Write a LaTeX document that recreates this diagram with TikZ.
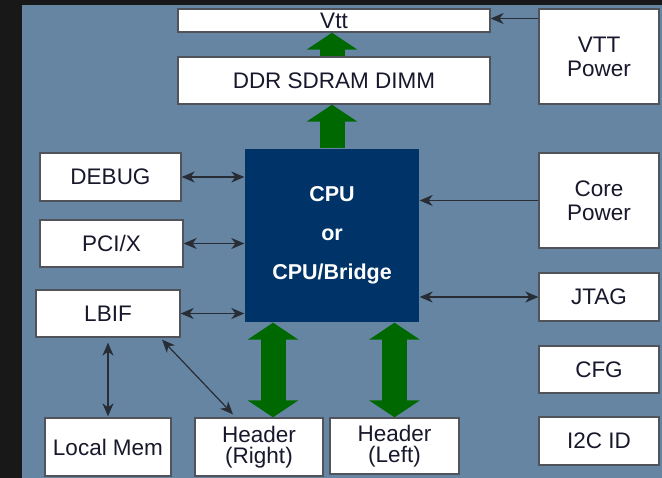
\documentclass[tikz,border=0pt]{standalone}
\usepackage{fontspec}
\setmainfont{Liberation Sans}
\usetikzlibrary{arrows.meta,calc}
\definecolor{bg}{RGB}{101,133,163}
\definecolor{frame}{RGB}{24,24,24}
\definecolor{cpublue}{RGB}{0,52,104}
\definecolor{grn}{RGB}{0,104,0}
\definecolor{txt}{RGB}{24,24,44}
\definecolor{edge}{RGB}{80,84,90}
\definecolor{arr}{RGB}{40,44,52}
\newcommand\placebox[7][]{\node[box,#1,minimum width={(#4-#2)*1pt},minimum height={(#5-#3)*1pt}] (#6) at ({(#2+#4)/2},{(#3+#5)/2}) {#7};}
\begin{document}
\begin{tikzpicture}[x=1pt,y=-1pt,
  box/.style={draw=edge,line width=1.3pt,fill=white,inner sep=0pt,text=txt,align=center,font=\fontsize{22.5}{24}\selectfont},
  hdr/.style={font=\fontsize{22.5}{21}\selectfont},
  cpubox/.style={fill=cpublue,draw=none,text=white,font=\fontsize{21.5}{39}\selectfont\bfseries},
  tip/.style={},
  dbl/.style={draw=arr,line width=1.2pt,arrows={Stealth[length=13pt,width=11pt,inset=4pt]-Stealth[length=13pt,width=11pt,inset=4pt]}},
  sgl/.style={draw=arr,line width=1.2pt,arrows={-Stealth[length=13pt,width=11pt,inset=4pt]}},
  gup/.style={draw=grn,line width=25pt,arrows={-Triangle[length=17pt,width=50pt]}},
  gdbl/.style={draw=grn,line width=25pt,arrows={Triangle[length=17pt,width=50pt]-Triangle[length=17pt,width=50pt]}}]
\useasboundingbox (0,0) rectangle (662,478);
\fill[frame] (0,0) rectangle (662,478);
\fill[bg] (22,5) rectangle (662,478);

\placebox{178}{9}{490}{32}{vtt}{Vtt}
\placebox{178}{57}{490}{104}{ddr}{DDR SDRAM DIMM}
\placebox{539}{9}{659}{104}{vttp}{VTT\\Power}
\placebox{40}{153}{181}{201}{debug}{DEBUG}
\placebox{40}{220}{183}{267}{pcix}{PCI/X}
\placebox{36}{290}{180}{337}{lbif}{LBIF}
\placebox[cpubox]{245}{149}{419}{322}{cpu}{CPU\\or\\CPU/Bridge}
\placebox{539}{153}{659}{248}{corep}{Core\\Power}
\placebox{539}{273}{659}{321}{jtag}{JTAG}
\placebox{539}{346}{659}{393}{cfg}{CFG}
\placebox{539}{417}{659}{465}{i2c}{I2C ID}
\placebox{45}{418}{171}{476}{lmem}{Local Mem}
\placebox[hdr]{195}{418}{323}{476}{hdrr}{Header\\(Right)}
\placebox[hdr]{330}{418}{459}{474}{hdrl}{Header\\(Left)}

% green buses
\draw[gup] (cpu.north) -- (cpu.north |- ddr.south);
\draw[gup] (cpu.north |- ddr.north) -- (cpu.north |- vtt.south);
\coordinate (hrx) at ($(hdrr.north)+(14,0)$);
\draw[gdbl] (hrx |- cpu.south) -- (hrx);
\draw[gdbl] (hdrl.north |- cpu.south) -- (hdrl.north);

% black connectors
\draw[sgl] ($(vttp.west |- vtt.east)+(0,-2)$) -- ($(vtt.east)+(0,-2)$);
\draw[dbl] (debug.east) -- (debug.east -| cpu.west);
\draw[dbl] (pcix.east) -- (pcix.east -| cpu.west);
\draw[dbl] (lbif.east) -- (lbif.east -| cpu.west);
\draw[sgl] (corep.west) -- (corep.west -| cpu.east);
\draw[dbl] (jtag.west -| cpu.east) -- (jtag.west);
\draw[dbl] ($(lbif.south)+(0,5)$) -- ($(lmem.north)+(0,-1)$);
\draw[dbl] ($(lbif.south)+(54,2)$) -- ($(hdrr.north)+(-26,-3)$);
\end{tikzpicture}
\end{document}
